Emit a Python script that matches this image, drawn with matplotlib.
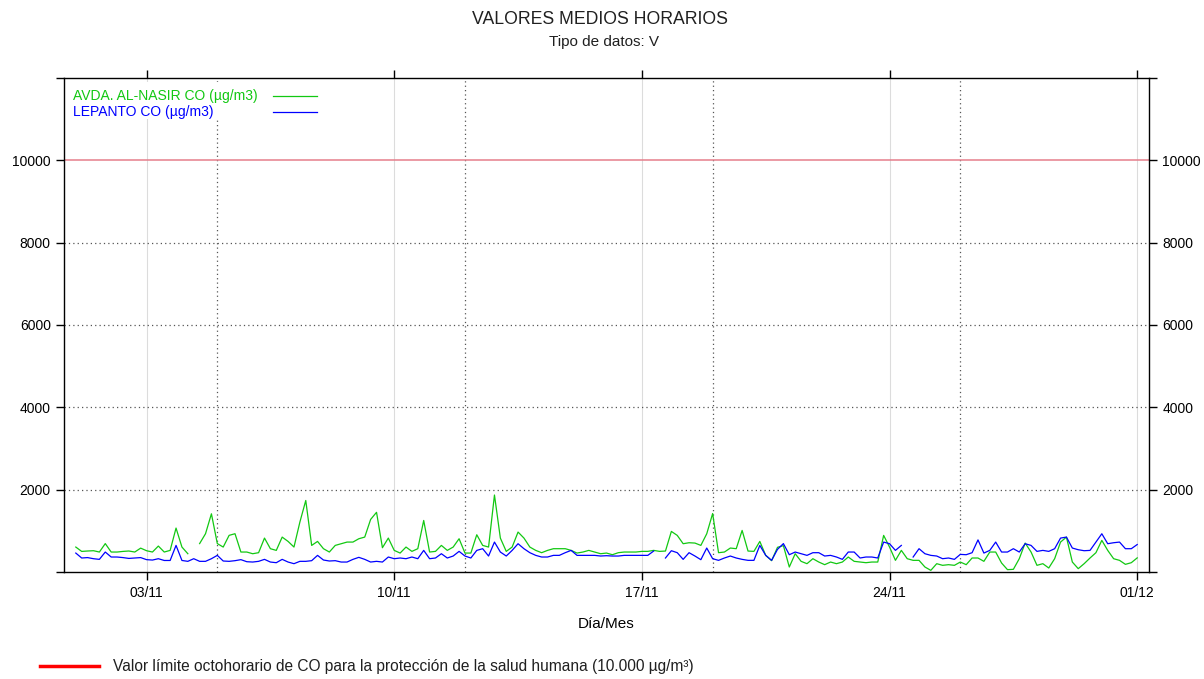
import numpy as np
import pandas as pd
import matplotlib
matplotlib.use("Agg")
from matplotlib import pyplot as plt
from matplotlib.lines import Line2D
from matplotlib.patches import Rectangle

nan = np.nan

title = "VALORES MEDIOS HORARIOS"
subtitle = "Tipo de datos: V"
green_label = "AVDA. AL-NASIR CO (µg/m3)"
blue_label = "LEPANTO CO (µg/m3)"
footer_label = "Valor límite octohorario de CO para la protección de la salud humana (10.000 µg/m³)"

# one reading every 4 hours, 01/11 00:00 -> 01/12 00:00
start = "2023-11-01"
step = "4h"

green_co = [
    606, 500, 510, 517, 485, 690, 485, 485, 500, 510, 485, 580, 517, 485, 630,
    485, 525, 1067, 606, 444, nan, 690, 930, 1414, 690, 606, 890, 930, 485, 485,
    444, 469, 824, 566, 525, 848, 743, 606, 1212, 1737, 646, 743, 566, 485, 646,
    687, 727, 727, 808, 848, 1277, 1450, 590, 824, 525, 460, 606, 501, 566, 1252,
    485, 501, 646, 525, 606, 808, 460, 460, 905, 646, 606, 1870, 824, 501, 606,
    970, 824, 606, 525, 469, 525, 566, 566, 566, 525, 460, 485, 525, 485, 444,
    460, 420, 469, 485, 485, 485, 501, 501, 525, 501, 509, 986, 889, 687, 711,
    703, 646, 929, 1420, 469, 485, 582, 566, 1010, 509, 501, 743, 404, 275, 600,
    640, 121, 444, 259, 202, 323, 242, 178, 242, 202, 242, 364, 259, 242, 226,
    242, 242, 889, 606, 283, 525, 323, 283, 283, 121, 40, 202, 162, 178, 162,
    242, 178, 340, 340, 259, 485, 485, 218, 57, 65, 323, 703, 485, 162, 202,
    97, 323, 727, 848, 242, 81, 202, 340, 469, 768, 525, 323, 283, 186, 226,
    343,
]

blue_co = [
    460, 340, 350, 323, 307, 485, 364, 364, 350, 330, 340, 350, 300, 290, 323,
    280, 280, 646, 280, 259, 323, 259, 259, 323, 404, 267, 259, 275, 300, 250,
    242, 259, 307, 242, 226, 307, 242, 202, 259, 259, 275, 404, 291, 267, 275,
    242, 242, 307, 356, 307, 242, 259, 242, 364, 323, 340, 323, 364, 323, 525,
    323, 340, 444, 340, 388, 501, 388, 340, 525, 566, 388, 727, 485, 388, 525,
    687, 566, 469, 404, 364, 364, 404, 404, 469, 525, 404, 404, 404, 404, 388,
    396, 388, 388, 404, 404, 404, 404, 404, 509, nan, 340, 517, 469, 307, 469,
    388, 299, 582, 323, 283, 340, 388, 340, 307, 283, 283, 646, 404, 283, 550,
    690, 420, 485, 444, 404, 469, 469, 388, 404, 364, 307, 485, 485, 340, 364,
    364, 340, 727, 687, 525, 646, nan, 364, 566, 444, 404, 388, 323, 340, 307,
    428, 420, 469, 780, 460, 525, 727, 485, 485, 566, 485, 687, 646, 501, 525,
    501, 566, 824, 848, 582, 541, 517, 525, 727, 929, 687, 711, 727, 566, 566,
    667,
]

x_tick_labels = ["03/11", "10/11", "17/11", "24/11", "01/12"]
dotted_days = ["05/11", "12/11", "19/11", "26/11"]
y_ticks = [0, 2000, 4000, 6000, 8000, 10000, 12000]
limit_value = 10000

green = "#12c812"
blue = "#0000ff"

plt.rcParams["font.family"] = ["Liberation Sans", "DejaVu Sans"]

times = pd.date_range(start, periods=len(green_co), freq=step)
year = times[0].year


def to_date(s):
    return pd.to_datetime(s + "/" + str(year), format="%d/%m/%Y")


fig = plt.figure(figsize=(12.04, 6.79), dpi=100)
ax = fig.add_axes([64 / 1204, 1 - 572 / 679, (1149 - 64) / 1204, (572 - 78) / 679])

dot = (0, (1, 2.5))
for d in x_tick_labels:
    ax.axvline(to_date(d), color="#dcdcdc", lw=0.8, zorder=0)
for d in dotted_days:
    ax.axvline(to_date(d), color="#555555", lw=0.9, ls=dot, zorder=0)
for v in y_ticks[1:-2]:
    ax.axhline(v, color="#555555", lw=0.9, ls=dot, zorder=0)
ax.axhline(limit_value, color="#e57f8c", lw=1.1, zorder=1)

ax.plot(times, green_co, color=green, lw=0.9, zorder=3)
ax.plot(times, blue_co, color=blue, lw=0.9, zorder=3)

pad = pd.Timedelta(hours=8)
ax.set_xlim(times[0] - pad, times[-1] + pad)
ax.set_ylim(0, 12000)

ax.set_xticks([to_date(d) for d in x_tick_labels])
ax.set_xticklabels(x_tick_labels)
ax.set_yticks(y_ticks)
ax.set_yticklabels([str(v) if 0 < v < 12000 else "" for v in y_ticks])
ax.tick_params(axis="both", direction="out", length=6, width=1.0, labelsize=10,
               top=True, right=True, labelright=True, labeltop=False, pad=4)
ax.tick_params(axis="y", pad=3.5)
for s in ax.spines.values():
    s.set_linewidth(1.0)

ax.set_xlabel("Día/Mes", fontsize=11, labelpad=12)

# legend block, top left inside the frame
ax.add_patch(Rectangle((0.003, 0.918), 0.245, 0.074, transform=ax.transAxes,
                       facecolor="white", edgecolor="none", zorder=2))
for y, lab, col in [(0.9636, green_label, green), (0.9312, blue_label, blue)]:
    ax.text(0.0083, y, lab, transform=ax.transAxes, color=col, fontsize=10,
            ha="left", va="center", zorder=4)
    ax.plot([0.1926, 0.2332], [y, y], transform=ax.transAxes, color=col, lw=0.9, zorder=4)

fig.text(600 / 1204, 1 - 20 / 679, title, ha="center", va="center", fontsize=12.7, color="#202020")
fig.text(604 / 1204, 1 - 42 / 679, subtitle, ha="center", va="center", fontsize=11, color="#202020")

fig.add_artist(Line2D([40 / 1204, 99 / 1204], [1 - 666 / 679, 1 - 666 / 679], color="red", lw=2.5))
fig.text(113 / 1204, 1 - 667 / 679, footer_label, ha="left", va="center", fontsize=11.2,
         color="#202020")

fig.savefig("out.png", dpi=100)
